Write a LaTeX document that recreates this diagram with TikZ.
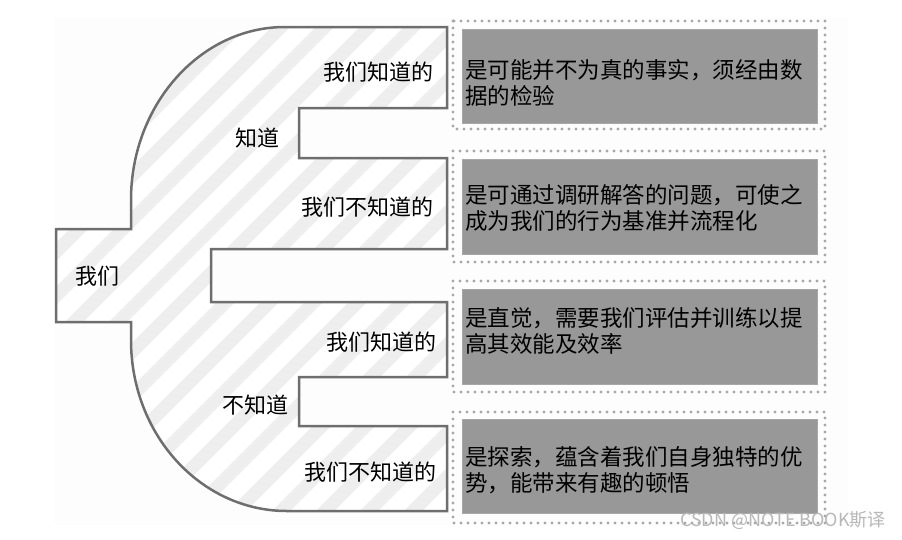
\documentclass[tikz,border=0pt]{standalone}
\usepackage{fontspec}
\newfontfamily\cjk{Noto Sans CJK SC}
\definecolor{outl}{HTML}{6E6E6E}
\definecolor{band}{HTML}{EEEEEE}
\definecolor{boxfill}{HTML}{989898}
\definecolor{dotc}{HTML}{A8A8A8}
\definecolor{bgc}{HTML}{FDFDFD}
\tikzset{
  lbl/.style={font=\cjk\fontsize{22pt}{26pt}\selectfont, inner sep=0pt, text=black},
  desc/.style={font=\cjk\fontsize{22.5pt}{26pt}\selectfont, inner sep=0pt, align=left, anchor=west, text=black},
  dotbox/.style={draw=dotc, line width=3.2pt, line cap=round, dash pattern=on 0pt off 7pt},
  innerbox/.style={fill=boxfill, draw=boxfill!85!white, line width=0.8pt},
}
\begin{document}
\begin{tikzpicture}[x=1pt,y=-1pt]
\useasboundingbox (0,0) rectangle (902,539);
\fill[white] (0,0) rectangle (902,539);
\fill[bgc] (55,18) rectangle (848,525);
% main shape
\def\shapepath{(131,229) -- (131,200) .. controls (131,105) and (200,27) .. (285,27) -- (447,27) -- (447,108) -- (299,108) -- (299,158) -- (447,158) -- (447,249) -- (211,249) -- (211,302) -- (447,302) -- (447,377) -- (299,377) -- (299,426) -- (447,426) -- (447,511) -- (287,511) .. controls (201,511) and (131,435) .. (131,340) -- (131,322) -- (56,322) -- (56,229) -- cycle}
\fill[white] \shapepath;
\begin{scope}
  \clip \shapepath;
  \foreach \c in {0,44,...,1150} {
    \draw[band, line width=13pt] (\c,0) -- (\c-600,600);
  }
\end{scope}
\draw[outl, line width=2.5pt, line join=miter] \shapepath;
% labels
\node[lbl, anchor=east] (k1) at (434,72) {我们知道的};
\node[lbl] (zd) at (257,138) {知道};
\node[lbl, anchor=east] (u1) at (434,207) {我们不知道的};
\node[lbl] (wm) at (97,276) {我们};
\node[lbl, anchor=east] (k2) at (437,342) {我们知道的};
\node[lbl] (bzd) at (255,405) {不知道};
\node[lbl, anchor=east] (u2) at (437,472) {我们不知道的};
% right boxes
\draw[dotbox] (453,21) rectangle (825,129);
\draw[innerbox] (462,29) rectangle (817,123);
\node[desc] (d1) at (465,83) {是可能并不为真的事实，须经由数\\据的检验};
\draw[dotbox] (453,151) rectangle (825,262);
\draw[innerbox] (462,159) rectangle (817,254);
\node[desc] (d2) at (465,208) {是可通过调研解答的问题，可使之\\成为我们的行为基准并流程化};
\draw[dotbox] (453,281) rectangle (825,392);
\draw[innerbox] (462,289) rectangle (817,384);
\node[desc] (d3) at (465,331) {是直觉，需要我们评估并训练以提\\高其效能及效率};
\draw[dotbox] (453,412) rectangle (825,523);
\draw[innerbox] (462,419) rectangle (817,513);
\node[desc] (d4) at (465,470) {是探索，蕴含着我们自身独特的优\\势，能带来有趣的顿悟};
% watermark
\node[font=\cjk\fontsize{18pt}{20pt}\selectfont, text=black!28, anchor=east, inner sep=0pt] (wmk) at (886,520) {CSDN @NOTE BOOK斯译};
\end{tikzpicture}
\end{document}
